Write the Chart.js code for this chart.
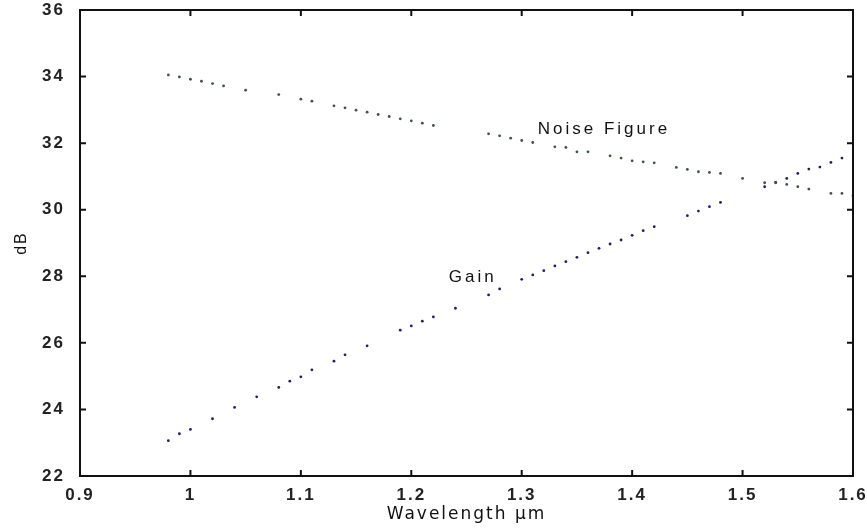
<!DOCTYPE html>
<html>
<head>
<meta charset="utf-8">
<script src="https://cdn.jsdelivr.net/npm/chart.js@4.4.0/dist/chart.umd.min.js"></script>
<style>
  html, body { margin: 0; padding: 0; background: #fff; }
  #wrap { width: 867px; height: 530px; }
</style>
</head>
<body>
<div id="wrap"><canvas id="chart"></canvas></div>
<script>
// values (wavelength in um, level in dB)
const noiseX = [0.98, 0.99, 1.00, 1.01, 1.02, 1.03, 1.05, 1.08, 1.10, 1.11, 1.13, 1.14, 1.15, 1.16, 1.17, 1.18,
  1.19, 1.20, 1.21, 1.22, 1.27, 1.28, 1.29, 1.30, 1.31, 1.33, 1.34, 1.35, 1.36, 1.38, 1.39, 1.40,
  1.41, 1.42, 1.44, 1.45, 1.46, 1.47, 1.48, 1.50, 1.52, 1.53, 1.54, 1.55, 1.56, 1.58, 1.59, 1.60];
const noiseY = [34.05, 33.99, 33.92, 33.86, 33.79, 33.72, 33.59, 33.46, 33.32, 33.26, 33.12, 33.06, 32.99, 32.93, 32.86, 32.80,
  32.73, 32.67, 32.60, 32.53, 32.28, 32.22, 32.15, 32.08, 32.02, 31.89, 31.87, 31.74, 31.74, 31.62, 31.55, 31.47,
  31.44, 31.41, 31.27, 31.21, 31.14, 31.12, 31.09, 30.94, 30.81, 30.81, 30.76, 30.69, 30.62, 30.49, 30.49, 30.42];

const gainX = [0.98, 0.99, 1.00, 1.02, 1.04, 1.06, 1.08, 1.09, 1.10, 1.11, 1.13, 1.14, 1.16, 1.19, 1.20, 1.21,
  1.22, 1.24, 1.27, 1.28, 1.30, 1.31, 1.32, 1.33, 1.34, 1.35, 1.36, 1.37, 1.38, 1.39, 1.40, 1.41,
  1.42, 1.45, 1.46, 1.47, 1.48, 1.52, 1.53, 1.54, 1.55, 1.56, 1.57, 1.58, 1.59];
const gainY = [23.06, 23.27, 23.40, 23.72, 24.06, 24.38, 24.66, 24.85, 24.98, 25.19, 25.45, 25.64, 25.91, 26.38, 26.51, 26.65,
  26.78, 27.04, 27.44, 27.62, 27.91, 28.04, 28.17, 28.31, 28.44, 28.57, 28.71, 28.84, 28.97, 29.09, 29.23, 29.37,
  29.49, 29.82, 29.96, 30.09, 30.22, 30.69, 30.82, 30.94, 31.09, 31.22, 31.28, 31.42, 31.55];

const xTicks = [0.9, 1.0, 1.1, 1.2, 1.3, 1.4, 1.5, 1.6];
const xTickLabels = ['0.9', '1', '1.1', '1.2', '1.3', '1.4', '1.5', '1.6'];
const yTicks = [22, 24, 26, 28, 30, 32, 34, 36];

const curveNames = ['Noise Figure', 'Gain'];
const namePosX = [1.3145, 1.234];
const namePosY = [32.42, 27.98];

const toPoints = (xs, ys) => xs.map((x, i) => ({ x: x, y: ys[i] }));

// box frame, inward ticks on all four sides, and the curve names
const framePlugin = {
    id: 'frame',
    beforeDraw(chart) {
        chart.ctx.letterSpacing = '2px';
    },
    afterDraw(chart) {
        const { ctx, chartArea: a, scales: { x, y } } = chart;
        ctx.save();
        ctx.strokeStyle = '#111';
        ctx.lineWidth = 2;
        ctx.strokeRect(a.left, a.top, a.right - a.left, a.bottom - a.top);
        ctx.beginPath();
        x.ticks.forEach(t => {
            const px = x.getPixelForValue(t.value);
            ctx.moveTo(px, a.bottom); ctx.lineTo(px, a.bottom - 6);
            ctx.moveTo(px, a.top); ctx.lineTo(px, a.top + 6);
        });
        y.ticks.forEach(t => {
            const py = y.getPixelForValue(t.value);
            ctx.moveTo(a.left, py); ctx.lineTo(a.left + 6, py);
            ctx.moveTo(a.right, py); ctx.lineTo(a.right - 6, py);
        });
        ctx.stroke();

        ctx.font = '17px "Liberation Sans", Arial, sans-serif';
        ctx.letterSpacing = '3px';
        ctx.fillStyle = '#111';
        ctx.textBaseline = 'middle';
        ctx.textAlign = 'left';
        curveNames.forEach((name, i) => {
            ctx.fillText(name, x.getPixelForValue(namePosX[i]), y.getPixelForValue(namePosY[i]));
        });
        ctx.restore();
    }
};

const tickFont = { family: '"Liberation Sans", Arial, sans-serif', size: 17, weight: 'bold' };
const titleFont = { family: '"DejaVu Sans", sans-serif', size: 17 };

new Chart(document.getElementById('chart'), {
    type: 'scatter',
    data: {
        datasets: [{
            label: 'Noise Figure',
            data: toPoints(noiseX, noiseY),
            backgroundColor: '#3d553d',
            borderWidth: 0,
            pointRadius: 1.4
        }, {
            label: 'Gain',
            data: toPoints(gainX, gainY),
            backgroundColor: '#1e1e70',
            borderWidth: 0,
            pointRadius: 1.4
        }]
    },
    options: {
        responsive: true,
        maintainAspectRatio: false,
        animation: false,
        layout: { padding: { top: 10, right: 14, left: 0, bottom: 0 } },
        scales: {
            x: {
                type: 'linear',
                min: 0.9,
                max: 1.6,
                afterBuildTicks: s => { s.ticks = xTicks.map(v => ({ value: v })); },
                afterFit: s => { s.height = 54; },
                ticks: {
                    callback: (v, i) => xTickLabels[i],
                    font: tickFont,
                    color: '#222',
                    padding: 1,
                    maxRotation: 0,
                    autoSkip: false
                },
                grid: { display: false },
                border: { display: false },
                title: {
                    display: true,
                    text: 'Wavelength µm',
                    font: titleFont,
                    color: '#111',
                    padding: { top: 0, bottom: 5 }
                }
            },
            y: {
                min: 22,
                max: 36,
                afterBuildTicks: s => { s.ticks = yTicks.map(v => ({ value: v })); },
                afterFit: s => { s.width = 80; s.paddingTop = 0; s.paddingBottom = 0; },
                ticks: {
                    font: tickFont,
                    color: '#222',
                    padding: 7
                },
                grid: { display: false },
                border: { display: false },
                title: {
                    display: true,
                    text: 'dB',
                    font: { family: '"Liberation Sans", Arial, sans-serif', size: 16 },
                    color: '#111',
                    padding: { top: 12, bottom: 0 }
                }
            }
        },
        plugins: {
            legend: { display: false },
            tooltip: { enabled: false }
        }
    },
    plugins: [framePlugin]
});
</script>
</body>
</html>
